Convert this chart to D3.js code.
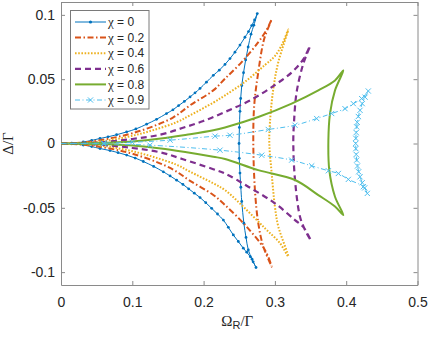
<!DOCTYPE html>
<html>
<head>
<meta charset="utf-8">
<script src="https://cdn.jsdelivr.net/npm/d3@7"></script>
<style>
  body { margin: 0; background: #fff; }
  svg { display: block; }
</style>
</head>
<body>
<div id="chart"></div>
<script>
// Each curve: upper branch from origin to top cusp, back through the middle
// to the bottom cusp, then the lower branch back to the origin. [Omega_R, Delta]
const chi0 = [
  [0, 0], [0.015, 0.0002], [0.0313, 0.0012], [0.043, 0.0024], [0.0547, 0.0039], [0.066, 0.0052],
  [0.078, 0.0068], [0.092, 0.009], [0.105, 0.0113], [0.12, 0.015], [0.134, 0.0188], [0.148, 0.0233],
  [0.157, 0.0262], [0.165, 0.0295], [0.173, 0.0327], [0.181, 0.0362], [0.188, 0.0394], [0.195, 0.0428],
  [0.204, 0.0477], [0.2136, 0.053], [0.222, 0.057], [0.23, 0.0615], [0.237, 0.066], [0.244, 0.071],
  [0.251, 0.0765], [0.258, 0.0826], [0.263, 0.087], [0.2675, 0.0917], [0.2715, 0.096], [0.2753, 0.101],
  [0.2705, 0.092], [0.2665, 0.085], [0.2625, 0.075], [0.259, 0.065], [0.256, 0.055], [0.2535, 0.045],
  [0.252, 0.035], [0.251, 0.025], [0.2502, 0.0125], [0.2497, 0], [0.25, -0.0115], [0.251, -0.023],
  [0.2522, -0.034], [0.2535, -0.045], [0.2565, -0.062], [0.2595, -0.073], [0.2627, -0.0827],
  [0.268, -0.09], [0.2735, -0.0964],
  [0.2695, -0.092], [0.2655, -0.088], [0.2605, -0.0845], [0.2557, -0.0814], [0.2487, -0.0762],
  [0.2417, -0.0711], [0.2347, -0.0652], [0.2277, -0.0595], [0.2195, -0.0548], [0.2113, -0.0504],
  [0.203, -0.046], [0.195, -0.042], [0.187, -0.0386], [0.179, -0.0352], [0.171, -0.0318],
  [0.1622, -0.0285], [0.153, -0.0252], [0.1435, -0.022], [0.13, -0.0178], [0.1154, -0.014],
  [0.104, -0.0113], [0.0921, -0.009], [0.08, -0.0071], [0.0687, -0.0055], [0.0547, -0.0039],
  [0.043, -0.0024], [0.0313, -0.0012], [0.015, -0.0002], [0, 0]
];
const chi02 = [
  [0, 0], [0.03, 0.0008], [0.055, 0.0026], [0.08, 0.0052], [0.1014, 0.0082], [0.13, 0.0135],
  [0.1575, 0.0203], [0.181, 0.0297], [0.2136, 0.0413], [0.23, 0.0504], [0.2534, 0.0633],
  [0.2767, 0.0788], [0.288, 0.088], [0.2955, 0.0964],
  [0.285, 0.0814], [0.2767, 0.0555], [0.271, 0.0297], [0.2697, 0.0012], [0.272, -0.0362],
  [0.2767, -0.062], [0.2837, -0.08], [0.2955, -0.0957],
  [0.286, -0.0827], [0.258, -0.0633], [0.23, -0.0478], [0.2136, -0.04], [0.181, -0.029],
  [0.1575, -0.0203], [0.13, -0.0135], [0.1014, -0.0082], [0.08, -0.0052], [0.055, -0.0026],
  [0.03, -0.0008], [0, 0]
];
const chi04 = [
  [0, 0], [0.04, 0.0008], [0.07, 0.0028], [0.1, 0.006], [0.13, 0.0105], [0.162, 0.0165],
  [0.181, 0.0219], [0.2136, 0.0318], [0.23, 0.0374], [0.258, 0.048], [0.286, 0.061],
  [0.3, 0.068], [0.31, 0.077], [0.3188, 0.0886],
  [0.3048, 0.0633], [0.2978, 0.0426], [0.2931, 0.0167], [0.2922, 0], [0.2955, -0.0233],
  [0.3, -0.049], [0.3048, -0.0646], [0.3188, -0.0879],
  [0.3071, -0.0775], [0.286, -0.0659], [0.258, -0.0504], [0.23, -0.0362], [0.2136, -0.031],
  [0.181, -0.0219], [0.162, -0.0165], [0.13, -0.0105], [0.1, -0.006], [0.07, -0.0028],
  [0.04, -0.0008], [0, 0]
];
const chi06 = [
  [0, 0], [0.05, 0.0007], [0.1, 0.0035], [0.1389, 0.0068], [0.17, 0.012], [0.1996, 0.0175],
  [0.23, 0.0245], [0.265, 0.0335], [0.3, 0.0455], [0.325, 0.056], [0.3398, 0.0655], [0.3492, 0.0757],
  [0.3398, 0.062], [0.3305, 0.04], [0.3268, 0.0167], [0.3258, 0], [0.3282, -0.0284],
  [0.3352, -0.0569], [0.3422, -0.0672], [0.3506, -0.0755],
  [0.34, -0.065], [0.3282, -0.0595], [0.3, -0.0465], [0.2627, -0.0336], [0.23, -0.0233],
  [0.2136, -0.02], [0.17, -0.012], [0.1389, -0.0068], [0.1, -0.0035], [0.05, -0.0007], [0, 0]
];
const chi08 = [
  [0, 0], [0.05, 0.0004], [0.1, 0.0016], [0.14, 0.0038], [0.1763, 0.0068], [0.2136, 0.0103],
  [0.23, 0.0125], [0.2767, 0.0206], [0.3235, 0.031], [0.3609, 0.0413], [0.3843, 0.049], [0.396, 0.0568],
  [0.3843, 0.0413], [0.3773, 0.0233], [0.375, 0.0026], [0.3763, -0.0207], [0.3843, -0.0414],
  [0.396, -0.0556],
  [0.3843, -0.049], [0.3609, -0.0401], [0.3282, -0.0284], [0.2767, -0.0207], [0.23, -0.012],
  [0.2136, -0.0103], [0.1763, -0.0068], [0.14, -0.0038], [0.1, -0.0016], [0.05, -0.0004], [0, 0]
];
const chi09 = [
  [0, 0], [0.06, 0.0003], [0.1, 0.001], [0.153, 0.0026], [0.216, 0.0057], [0.237, 0.0064],
  [0.2907, 0.0109], [0.3282, 0.0142], [0.3586, 0.0194], [0.3796, 0.0233], [0.3983, 0.0271],
  [0.41, 0.031], [0.4217, 0.0349], [0.431, 0.0408],
  [0.4265, 0.036], [0.4225, 0.031], [0.4194, 0.0258], [0.417, 0.021], [0.4155, 0.0165],
  [0.4147, 0.0129], [0.414, 0.0085], [0.4135, 0.004], [0.4133, 0], [0.4135, -0.004],
  [0.414, -0.0085], [0.4147, -0.0129], [0.4158, -0.0175], [0.4175, -0.022], [0.4194, -0.0259],
  [0.4225, -0.0305], [0.426, -0.0345], [0.4296, -0.0388],
  [0.424, -0.0336], [0.403, -0.0279], [0.389, -0.0233], [0.375, -0.0212], [0.3516, -0.0174],
  [0.3235, -0.0129], [0.2815, -0.0091], [0.223, -0.0052], [0.1248, -0.0013], [0.06, -0.0003], [0, 0]
];

const chiLabels = ["0", "0.2", "0.4", "0.6", "0.8", "0.9"];
const xTicks = [0, 0.1, 0.2, 0.3, 0.4, 0.5];
const yTicks = [-0.1, -0.05, 0, 0.05, 0.1];

const series = [
  { pts: chi0,  color: "#0072BD", width: 1,   dash: null,          marker: "dot" },
  { pts: chi02, color: "#D95319", width: 2,   dash: "6,2.5,1.5,2.5", marker: null },
  { pts: chi04, color: "#EDB120", width: 2,   dash: "1.6,1.6",     marker: null },
  { pts: chi06, color: "#7E2F8E", width: 2.2, dash: "6,4",         marker: null },
  { pts: chi08, color: "#77AC30", width: 2,   dash: null,          marker: null },
  { pts: chi09, color: "#4DBEEE", width: 1,   dash: "5,2.5,1,2.5", marker: "cross" }
];

const W = 430, H = 338;
const plot = { left: 61, right: 417.5, top: 2, bottom: 285 };

const svg = d3.select("#chart").append("svg")
  .attr("width", W)
  .attr("height", H)
  .attr("viewBox", `0 0 ${W} ${H}`);

const x = d3.scaleLinear().domain([0, 0.5]).range([plot.left, plot.right]);
const y = d3.scaleLinear().domain([-0.11, 0.11]).range([plot.bottom, plot.top]);

const axisColor = "#8a8a8a";
const tickFont = "'Liberation Sans', Arial, sans-serif";
const serif = "'Liberation Serif', 'Times New Roman', serif";

// Axes (box with inward ticks, MATLAB style)
const fmt = d => d === 0 ? "0" : String(d);

const xAxis = svg.append("g")
  .attr("transform", `translate(0,${plot.bottom})`)
  .call(d3.axisBottom(x).tickValues(xTicks).tickFormat(fmt).tickSizeInner(-4).tickSizeOuter(0).tickPadding(12));
const xAxisTop = svg.append("g")
  .attr("transform", `translate(0,${plot.top})`)
  .call(d3.axisTop(x).tickValues(xTicks).tickFormat("").tickSizeInner(-4).tickSizeOuter(0));
const yAxis = svg.append("g")
  .attr("transform", `translate(${plot.left},0)`)
  .call(d3.axisLeft(y).tickValues(yTicks).tickFormat(fmt).tickSizeInner(-4).tickSizeOuter(0).tickPadding(6));
const yAxisRight = svg.append("g")
  .attr("transform", `translate(${plot.right},0)`)
  .call(d3.axisRight(y).tickValues(yTicks).tickFormat("").tickSizeInner(-4).tickSizeOuter(0));

[xAxis, xAxisTop, yAxis, yAxisRight].forEach(g => {
  g.select(".domain").attr("stroke", axisColor);
  g.selectAll(".tick line").attr("stroke", axisColor);
  g.selectAll("text")
    .attr("fill", "#262626")
    .style("font-family", tickFont)
    .style("font-size", "14px");
});

// Curves
svg.append("clipPath").attr("id", "clip")
  .append("rect")
  .attr("x", plot.left).attr("y", plot.top)
  .attr("width", plot.right - plot.left).attr("height", plot.bottom - plot.top);

const line = d3.line()
  .x(d => x(d[0]))
  .y(d => y(d[1]))
  .curve(d3.curveCatmullRom.alpha(0.5));

const plotG = svg.append("g").attr("clip-path", "url(#clip)");

function drawMarkers(g, pts, s) {
  if (s.marker === "dot") {
    g.selectAll("circle.m").data(pts).enter().append("circle")
      .attr("class", "m")
      .attr("cx", d => x(d[0])).attr("cy", d => y(d[1]))
      .attr("r", 1.4)
      .attr("fill", s.color);
  } else if (s.marker === "cross") {
    const r = 2.6;
    g.selectAll("path.m").data(pts).enter().append("path")
      .attr("class", "m")
      .attr("d", d => {
        const cx = x(d[0]), cy = y(d[1]);
        return `M${cx - r},${cy - r}L${cx + r},${cy + r}M${cx - r},${cy + r}L${cx + r},${cy - r}`;
      })
      .attr("stroke", s.color)
      .attr("stroke-width", 1)
      .attr("fill", "none");
  }
}

series.forEach(s => {
  const g = plotG.append("g");
  g.append("path")
    .datum(s.pts)
    .attr("d", line)
    .attr("fill", "none")
    .attr("stroke", s.color)
    .attr("stroke-width", s.width)
    .attr("stroke-dasharray", s.dash)
    .attr("stroke-linejoin", "round");
  drawMarkers(g, s.pts.slice(1, -1), s);
});

// Axis titles
const xTitle = svg.append("text")
  .attr("x", (plot.left + plot.right) / 2 - 2)
  .attr("y", 326)
  .attr("text-anchor", "middle")
  .attr("fill", "#262626")
  .style("font-size", "15px")
  .style("font-family", serif);
xTitle.append("tspan").text("Ω");
xTitle.append("tspan").attr("dy", 3).style("font-family", tickFont).style("font-size", "11px").text("R");
xTitle.append("tspan").attr("dy", -3).text("/Γ");

svg.append("text")
  .attr("transform", `translate(12.5,${y(0)}) rotate(-90)`)
  .attr("text-anchor", "middle")
  .attr("fill", "#262626")
  .style("font-size", "15px")
  .style("font-family", serif)
  .text("Δ/Γ");

// Legend
const legend = svg.append("g");
legend.append("rect")
  .attr("x", 70.5).attr("y", 10.5)
  .attr("width", 78.5).attr("height", 98.5)
  .attr("fill", "#fff")
  .attr("stroke", "#7a7a7a")
  .attr("stroke-width", 1);

const rowY = d3.scaleLinear().domain([0, chiLabels.length - 1]).range([22, 100]);

series.forEach((s, i) => {
  const ry = rowY(i);
  const row = legend.append("g");
  row.append("line")
    .attr("x1", 75).attr("x2", 106)
    .attr("y1", ry).attr("y2", ry)
    .attr("stroke", s.color)
    .attr("stroke-width", s.width)
    .attr("stroke-dasharray", s.dash);
  if (s.marker === "dot") {
    row.append("circle").attr("cx", 90.5).attr("cy", ry).attr("r", 1.6).attr("fill", s.color);
  } else if (s.marker === "cross") {
    const r = 2.6;
    row.append("path")
      .attr("d", `M${90.5 - r},${ry - r}L${90.5 + r},${ry + r}M${90.5 - r},${ry + r}L${90.5 + r},${ry - r}`)
      .attr("stroke", s.color).attr("stroke-width", 1);
  }
  const t = row.append("text")
    .attr("x", 108)
    .attr("y", ry + 4.2)
    .attr("fill", "#262626")
    .style("font-size", "12px")
    .style("font-family", tickFont);
  t.append("tspan").style("font-family", serif).style("font-size", "13px").text("χ");
  t.append("tspan").text(" = " + chiLabels[i]);
});
</script>
</body>
</html>
